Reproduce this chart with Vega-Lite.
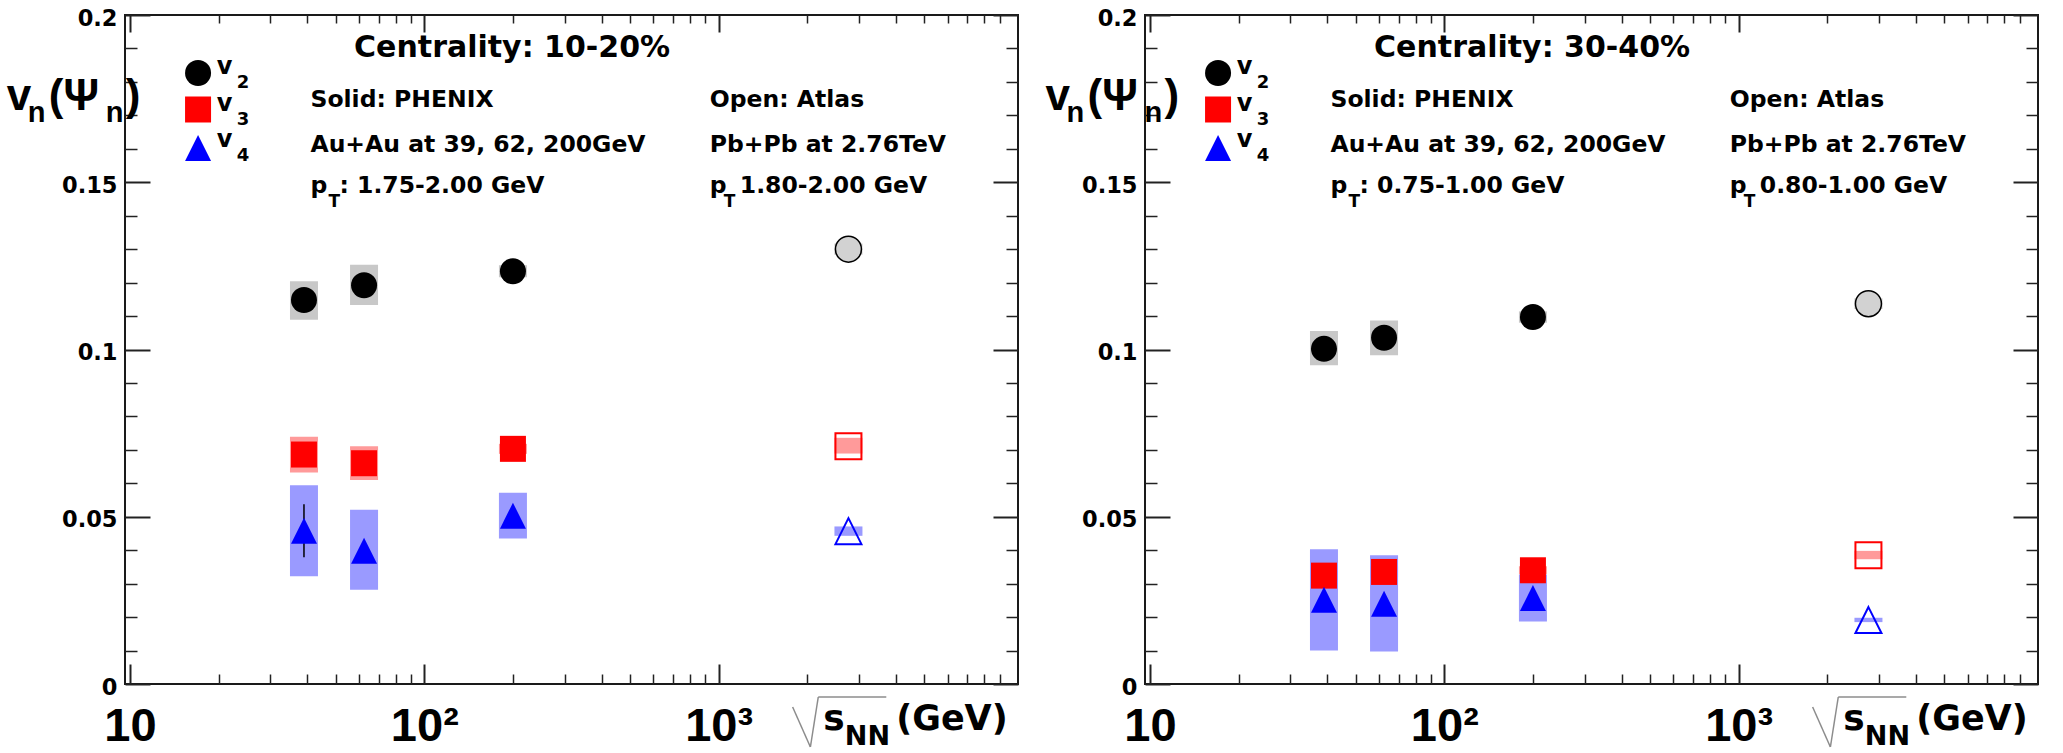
{
"$schema":"https://vega.github.io/schema/vega-lite/v6.json",
"background":"white",
"padding":{"left":5,"top":6,"right":0,"bottom":0},
"spacing":24,
"config":{"view":{"stroke":"#1a1a1a","strokeWidth":2},"axis":{"grid":false,"domain":false,"labelFlush":false,"labelOverlap":false,"labelBound":false,"tickColor":"#222"}},
"datasets":{
"p1":[
{"exp":"PHENIX","n":"v2","sqrts":39,"v":0.1148,"lo":0.1089,"hi":0.1204},
{"exp":"PHENIX","n":"v2","sqrts":62.4,"v":0.1192,"lo":0.1133,"hi":0.1253},
{"exp":"PHENIX","n":"v2","sqrts":200,"v":0.1234,"lo":0.1216,"hi":0.1252},
{"exp":"PHENIX","n":"v3","sqrts":39,"v":0.0686,"lo":0.0632,"hi":0.0739},
{"exp":"PHENIX","n":"v3","sqrts":62.4,"v":0.066,"lo":0.061,"hi":0.0711},
{"exp":"PHENIX","n":"v3","sqrts":200,"v":0.0703,"lo":0.0688,"hi":0.0718},
{"exp":"PHENIX","n":"v4","sqrts":39,"v":0.0458,"lo":0.0322,"hi":0.0594,"slo":0.0379,"shi":0.0537},
{"exp":"PHENIX","n":"v4","sqrts":62.4,"v":0.0398,"lo":0.0282,"hi":0.0521},
{"exp":"PHENIX","n":"v4","sqrts":200,"v":0.0503,"lo":0.0435,"hi":0.0572},
{"exp":"ATLAS","n":"v2","sqrts":2760,"v":0.13,"lo":0.1283,"hi":0.1317},
{"exp":"ATLAS","n":"v3","sqrts":2760,"v":0.0711,"lo":0.0689,"hi":0.0736},
{"exp":"ATLAS","n":"v4","sqrts":2760,"v":0.0457,"lo":0.0443,"hi":0.0471}
],
"p2":[
{"exp":"PHENIX","n":"v2","sqrts":39,"v":0.1002,"lo":0.0953,"hi":0.1055},
{"exp":"PHENIX","n":"v2","sqrts":62.4,"v":0.1035,"lo":0.0983,"hi":0.1087},
{"exp":"PHENIX","n":"v2","sqrts":200,"v":0.1097,"lo":0.108,"hi":0.1114},
{"exp":"PHENIX","n":"v3","sqrts":39,"v":0.0324,"lo":0.031,"hi":0.0338},
{"exp":"PHENIX","n":"v3","sqrts":62.4,"v":0.0335,"lo":0.0318,"hi":0.0352},
{"exp":"PHENIX","n":"v3","sqrts":200,"v":0.034,"lo":0.0328,"hi":0.0352},
{"exp":"PHENIX","n":"v4","sqrts":39,"v":0.0252,"lo":0.01,"hi":0.0403},
{"exp":"PHENIX","n":"v4","sqrts":62.4,"v":0.024,"lo":0.0097,"hi":0.0385},
{"exp":"PHENIX","n":"v4","sqrts":200,"v":0.0257,"lo":0.0187,"hi":0.0327},
{"exp":"ATLAS","n":"v2","sqrts":2760,"v":0.1137,"lo":0.1121,"hi":0.1153},
{"exp":"ATLAS","n":"v3","sqrts":2760,"v":0.0385,"lo":0.0373,"hi":0.0398},
{"exp":"ATLAS","n":"v4","sqrts":2760,"v":0.0191,"lo":0.0185,"hi":0.0198}
]
},
"hconcat":[
{
"width":893,"height":669,
"data":{"name":"p1"},
"resolve":{"axis":{"x":"independent","y":"independent"}},
"layer":[
{"mark":{"type":"bar","size":28},
 "encoding":{
  "x":{"field":"sqrts","type":"quantitative","scale":{"type":"log","domain":[10,10000]},"axis":{"title":null,"orient":"bottom","values":[10,100,1000],"ticks":false,"labelExpr":"datum.value == 10 ? '10' : datum.value == 100 ? '10²' : '10³'","labelFont":"Liberation Sans","labelFontWeight":"bold","labelFontSize":47,"labelColor":"#000","labelPadding":19,"labelBaseline":"top"}},
  "y":{"field":"lo","type":"quantitative","scale":{"domain":[0,0.2],"nice":false,"zero":false},"axis":{"title":null,"orient":"left","values":[0,0.05,0.1,0.15,0.2],"ticks":false,"format":"~g","labelFont":"DejaVu Sans","labelFontWeight":"bold","labelFontSize":22.5,"labelColor":"#000","labelPadding":8,"labelOffset":3}},
  "y2":{"field":"hi"},
  "color":{"field":"n","type":"nominal","scale":{"domain":["v2","v3","v4"],"range":["#c8c8c8","#ff9a9a","#9a9aff"]},"legend":null}}},
{"transform":[{"filter":"isValid(datum.slo)"}],
 "mark":{"type":"rule","color":"#000","strokeWidth":1.5},
 "encoding":{
  "x":{"field":"sqrts","type":"quantitative","scale":{"type":"log","domain":[10,10000]},"axis":{"title":null,"orient":"bottom","values":[10,100,1000],"labels":false,"tickSize":-20,"tickWidth":2}},
  "y":{"field":"slo","type":"quantitative","scale":{"domain":[0,0.2],"nice":false,"zero":false},"axis":{"title":null,"orient":"left","values":[0,0.05,0.1,0.15,0.2],"labels":false,"tickSize":-25,"tickWidth":2}},
  "y2":{"field":"shi"}}},
{"transform":[{"filter":"datum.exp == 'PHENIX'"}],
 "mark":{"type":"point","filled":true,"size":676,"opacity":1},
 "encoding":{
  "x":{"field":"sqrts","type":"quantitative","scale":{"type":"log","domain":[10,10000]},"axis":{"title":null,"orient":"bottom","values":[20,30,40,50,60,70,80,90,200,300,400,500,600,700,800,900,2000,3000,4000,5000,6000,7000,8000,9000],"labels":false,"tickSize":-10,"tickWidth":1.5}},
  "y":{"field":"v","type":"quantitative","scale":{"domain":[0,0.2],"nice":false,"zero":false},"axis":{"title":null,"orient":"left","values":[0.01,0.02,0.03,0.04,0.06,0.07,0.08,0.09,0.11,0.12,0.13,0.14,0.16,0.17,0.18,0.19],"labels":false,"tickSize":-12,"tickWidth":1.5}},
  "shape":{"field":"n","type":"nominal","scale":{"domain":["v2","v3","v4"],"range":["circle","square","M0,-1L1,1L-1,1Z"]},"legend":null},
  "fill":{"field":"n","type":"nominal","scale":{"domain":["v2","v3","v4"],"range":["#000000","#ff0000","#0000ff"]},"legend":null}}},
{"transform":[{"filter":"datum.exp == 'ATLAS' && datum.n == 'v2'"}],
 "mark":{"type":"point","shape":"circle","filled":true,"fill":"#d2d2d2","stroke":"#000","strokeWidth":1.5,"size":676,"opacity":1},
 "encoding":{
  "x":{"field":"sqrts","type":"quantitative","scale":{"type":"log","domain":[10,10000]},"axis":{"title":null,"orient":"top","values":[10,100,1000],"labels":false,"tickSize":-17,"tickWidth":2}},
  "y":{"field":"v","type":"quantitative","scale":{"domain":[0,0.2],"nice":false,"zero":false},"axis":{"title":null,"orient":"right","values":[0,0.05,0.1,0.15,0.2],"labels":false,"tickSize":-25,"tickWidth":2}}}},
{"transform":[{"filter":"datum.exp == 'ATLAS' && datum.n != 'v2'"}],
 "mark":{"type":"point","filled":false,"size":676,"strokeWidth":2,"opacity":1},
 "encoding":{
  "x":{"field":"sqrts","type":"quantitative","scale":{"type":"log","domain":[10,10000]},"axis":{"title":null,"orient":"top","values":[20,30,40,50,60,70,80,90,200,300,400,500,600,700,800,900,2000,3000,4000,5000,6000,7000,8000,9000],"labels":false,"tickSize":-8,"tickWidth":1.5}},
  "y":{"field":"v","type":"quantitative","scale":{"domain":[0,0.2],"nice":false,"zero":false},"axis":{"title":null,"orient":"right","values":[0.01,0.02,0.03,0.04,0.06,0.07,0.08,0.09,0.11,0.12,0.13,0.14,0.16,0.17,0.18,0.19],"labels":false,"tickSize":-12,"tickWidth":1.5}},
  "shape":{"field":"n","type":"nominal","scale":{"domain":["v2","v3","v4"],"range":["circle","square","M0,-1L1,1L-1,1Z"]},"legend":null},
  "stroke":{"field":"n","type":"nominal","scale":{"domain":["v2","v3","v4"],"range":["#000000","#ff0000","#0000ff"]},"legend":null}}},
{"data":{"values":[{}]},"mark":{"type":"point","shape":"circle","filled":true,"fill":"#000","size":676,"opacity":1},"encoding":{"x":{"datum":17.03,"scale":{"type":"log","domain":[10,10000]},"axis":null},"y":{"datum":0.18266,"scale":{"domain":[0,0.2],"nice":false,"zero":false},"axis":null}}},
{"data":{"values":[{}]},"mark":{"type":"point","shape":"square","filled":true,"fill":"#ff0000","size":676,"opacity":1},"encoding":{"x":{"datum":17.03,"scale":{"type":"log","domain":[10,10000]},"axis":null},"y":{"datum":0.17175,"scale":{"domain":[0,0.2],"nice":false,"zero":false},"axis":null}}},
{"data":{"values":[{}]},"mark":{"type":"point","shape":"M0,-1L1,1L-1,1Z","filled":true,"fill":"#0000ff","size":676,"opacity":1},"encoding":{"x":{"datum":17.03,"scale":{"type":"log","domain":[10,10000]},"axis":null},"y":{"datum":0.16024,"scale":{"domain":[0,0.2],"nice":false,"zero":false},"axis":null}}},
{"data":{"values":[{}]},"mark":{"type":"text","text":["v","v","v"],"lineHeight":36.5,"font":"DejaVu Sans","fontWeight":"bold","fontSize":24,"align":"left","baseline":"alphabetic","fill":"#000"},"encoding":{"x":{"datum":19.72,"scale":{"type":"log","domain":[10,10000]},"axis":null},"y":{"datum":0.18236,"scale":{"domain":[0,0.2],"nice":false,"zero":false},"axis":null}}},
{"data":{"values":[{}]},"mark":{"type":"text","text":["2","3","4"],"lineHeight":36.5,"font":"DejaVu Sans","fontWeight":"bold","fontSize":18,"dx":20,"align":"left","baseline":"alphabetic","fill":"#000"},"encoding":{"x":{"datum":19.72,"scale":{"type":"log","domain":[10,10000]},"axis":null},"y":{"datum":0.17817,"scale":{"domain":[0,0.2],"nice":false,"zero":false},"axis":null}}},
{"data":{"values":[{}]},"mark":{"type":"text","text":"Centrality: 10-20%","font":"DejaVu Sans","fontWeight":"bold","fontSize":30,"align":"center","baseline":"alphabetic","fill":"#000"},"encoding":{"x":{"datum":198.7,"scale":{"type":"log","domain":[10,10000]},"axis":null},"y":{"datum":0.18744,"scale":{"domain":[0,0.2],"nice":false,"zero":false},"axis":null}}},
{"data":{"values":[{}]},"mark":{"type":"text","text":["Solid: PHENIX","Au+Au at 39, 62, 200GeV"],"lineHeight":45,"font":"DejaVu Sans","fontWeight":"bold","fontSize":23.5,"align":"left","baseline":"alphabetic","fill":"#000"},"encoding":{"x":{"datum":41.03,"scale":{"type":"log","domain":[10,10000]},"axis":null},"y":{"datum":0.17249,"scale":{"domain":[0,0.2],"nice":false,"zero":false},"axis":null}}},
{"data":{"values":[{}]},"mark":{"type":"text","text":"p","font":"DejaVu Sans","fontWeight":"bold","fontSize":23.5,"align":"left","baseline":"alphabetic","fill":"#000"},"encoding":{"x":{"datum":41.03,"scale":{"type":"log","domain":[10,10000]},"axis":null},"y":{"datum":0.14678,"scale":{"domain":[0,0.2],"nice":false,"zero":false},"axis":null}}},
{"data":{"values":[{}]},"mark":{"type":"text","text":"T","font":"DejaVu Sans","fontWeight":"bold","fontSize":17,"dx":18,"dy":14,"align":"left","baseline":"alphabetic","fill":"#000"},"encoding":{"x":{"datum":41.03,"scale":{"type":"log","domain":[10,10000]},"axis":null},"y":{"datum":0.14678,"scale":{"domain":[0,0.2],"nice":false,"zero":false},"axis":null}}},
{"data":{"values":[{}]},"mark":{"type":"text","text":": 1.75-2.00 GeV","font":"DejaVu Sans","fontWeight":"bold","fontSize":23.5,"dx":29,"align":"left","baseline":"alphabetic","fill":"#000"},"encoding":{"x":{"datum":41.03,"scale":{"type":"log","domain":[10,10000]},"axis":null},"y":{"datum":0.14678,"scale":{"domain":[0,0.2],"nice":false,"zero":false},"axis":null}}},
{"data":{"values":[{}]},"mark":{"type":"text","text":["Open: Atlas","Pb+Pb at 2.76TeV"],"lineHeight":45,"font":"DejaVu Sans","fontWeight":"bold","fontSize":23.5,"align":"left","baseline":"alphabetic","fill":"#000"},"encoding":{"x":{"datum":932.9,"scale":{"type":"log","domain":[10,10000]},"axis":null},"y":{"datum":0.17249,"scale":{"domain":[0,0.2],"nice":false,"zero":false},"axis":null}}},
{"data":{"values":[{}]},"mark":{"type":"text","text":"p","font":"DejaVu Sans","fontWeight":"bold","fontSize":23.5,"align":"left","baseline":"alphabetic","fill":"#000"},"encoding":{"x":{"datum":932.9,"scale":{"type":"log","domain":[10,10000]},"axis":null},"y":{"datum":0.14678,"scale":{"domain":[0,0.2],"nice":false,"zero":false},"axis":null}}},
{"data":{"values":[{}]},"mark":{"type":"text","text":"T","font":"DejaVu Sans","fontWeight":"bold","fontSize":17,"dx":14,"dy":14,"align":"left","baseline":"alphabetic","fill":"#000"},"encoding":{"x":{"datum":932.9,"scale":{"type":"log","domain":[10,10000]},"axis":null},"y":{"datum":0.14678,"scale":{"domain":[0,0.2],"nice":false,"zero":false},"axis":null}}},
{"data":{"values":[{}]},"mark":{"type":"text","text":"1.80-2.00 GeV","font":"DejaVu Sans","fontWeight":"bold","fontSize":23.5,"dx":30,"align":"left","baseline":"alphabetic","fill":"#000"},"encoding":{"x":{"datum":932.9,"scale":{"type":"log","domain":[10,10000]},"axis":null},"y":{"datum":0.14678,"scale":{"domain":[0,0.2],"nice":false,"zero":false},"axis":null}}},
{"data":{"values":[{}]},"mark":{"type":"text","text":"v","font":"Liberation Sans","fontWeight":"bold","fontSize":44,"align":"left","baseline":"alphabetic","fill":"#000"},"encoding":{"x":{"datum":3.813,"scale":{"type":"log","domain":[10,10000]},"axis":null},"y":{"datum":0.1716,"scale":{"domain":[0,0.2],"nice":false,"zero":false},"axis":null}}},
{"data":{"values":[{}]},"mark":{"type":"text","text":"n","font":"Liberation Sans","fontWeight":"bold","fontSize":29,"dx":21,"dy":12,"align":"left","baseline":"alphabetic","fill":"#000"},"encoding":{"x":{"datum":3.813,"scale":{"type":"log","domain":[10,10000]},"axis":null},"y":{"datum":0.1716,"scale":{"domain":[0,0.2],"nice":false,"zero":false},"axis":null}}},
{"data":{"values":[{}]},"mark":{"type":"text","text":"(Ψ","font":"Liberation Sans","fontWeight":"bold","fontSize":44,"dx":42,"align":"left","baseline":"alphabetic","fill":"#000"},"encoding":{"x":{"datum":3.813,"scale":{"type":"log","domain":[10,10000]},"axis":null},"y":{"datum":0.1716,"scale":{"domain":[0,0.2],"nice":false,"zero":false},"axis":null}}},
{"data":{"values":[{}]},"mark":{"type":"text","text":"n","font":"Liberation Sans","fontWeight":"bold","fontSize":29,"dx":99,"dy":12,"align":"left","baseline":"alphabetic","fill":"#000"},"encoding":{"x":{"datum":3.813,"scale":{"type":"log","domain":[10,10000]},"axis":null},"y":{"datum":0.1716,"scale":{"domain":[0,0.2],"nice":false,"zero":false},"axis":null}}},
{"data":{"values":[{}]},"mark":{"type":"text","text":")","font":"Liberation Sans","fontWeight":"bold","fontSize":44,"dx":119,"align":"left","baseline":"alphabetic","fill":"#000"},"encoding":{"x":{"datum":3.813,"scale":{"type":"log","domain":[10,10000]},"axis":null},"y":{"datum":0.1716,"scale":{"domain":[0,0.2],"nice":false,"zero":false},"axis":null}}},
{"data":{"values":[{}]},"mark":{"type":"rule","color":"#8c8c8c","strokeWidth":1.5},"encoding":{"x":{"datum":1783.6,"scale":{"type":"log","domain":[10,10000]},"axis":null},"x2":{"datum":2049.5},"y":{"datum":-0.006876,"scale":{"domain":[0,0.2],"nice":false,"zero":false},"axis":null},"y2":{"datum":-0.018834}}},
{"data":{"values":[{}]},"mark":{"type":"rule","color":"#8c8c8c","strokeWidth":1.5},"encoding":{"x":{"datum":2049.5,"scale":{"type":"log","domain":[10,10000]},"axis":null},"x2":{"datum":2179.7},"y":{"datum":-0.018834,"scale":{"domain":[0,0.2],"nice":false,"zero":false},"axis":null},"y2":{"datum":-0.003886}}},
{"data":{"values":[{}]},"mark":{"type":"rule","color":"#8c8c8c","strokeWidth":1.5},"encoding":{"x":{"datum":2179.7,"scale":{"type":"log","domain":[10,10000]},"axis":null},"x2":{"datum":3711},"y":{"datum":-0.003886,"scale":{"domain":[0,0.2],"nice":false,"zero":false},"axis":null},"y2":{"datum":-0.003886}}},
{"data":{"values":[{}]},"mark":{"type":"text","text":"s","font":"DejaVu Sans","fontWeight":"bold","fontSize":36,"align":"left","baseline":"alphabetic","fill":"#000"},"encoding":{"x":{"datum":2265,"scale":{"type":"log","domain":[10,10000]},"axis":null},"y":{"datum":-0.013752,"scale":{"domain":[0,0.2],"nice":false,"zero":false},"axis":null}}},
{"data":{"values":[{}]},"mark":{"type":"text","text":"NN","font":"DejaVu Sans","fontWeight":"bold","fontSize":27,"align":"left","baseline":"alphabetic","fill":"#000"},"encoding":{"x":{"datum":2684,"scale":{"type":"log","domain":[10,10000]},"axis":null},"y":{"datum":-0.018236,"scale":{"domain":[0,0.2],"nice":false,"zero":false},"axis":null}}},
{"data":{"values":[{}]},"mark":{"type":"text","text":"(GeV)","font":"DejaVu Sans","fontWeight":"bold","fontSize":35,"align":"left","baseline":"alphabetic","fill":"#000"},"encoding":{"x":{"datum":4009,"scale":{"type":"log","domain":[10,10000]},"axis":null},"y":{"datum":-0.013752,"scale":{"domain":[0,0.2],"nice":false,"zero":false},"axis":null}}}
]
},
{
"width":893,"height":669,
"data":{"name":"p2"},
"resolve":{"axis":{"x":"independent","y":"independent"}},
"layer":[
{"mark":{"type":"bar","size":28},
 "encoding":{
  "x":{"field":"sqrts","type":"quantitative","scale":{"type":"log","domain":[10,10000]},"axis":{"title":null,"orient":"bottom","values":[10,100,1000],"ticks":false,"labelExpr":"datum.value == 10 ? '10' : datum.value == 100 ? '10²' : '10³'","labelFont":"Liberation Sans","labelFontWeight":"bold","labelFontSize":47,"labelColor":"#000","labelPadding":19,"labelBaseline":"top"}},
  "y":{"field":"lo","type":"quantitative","scale":{"domain":[0,0.2],"nice":false,"zero":false},"axis":{"title":null,"orient":"left","values":[0,0.05,0.1,0.15,0.2],"ticks":false,"format":"~g","labelFont":"DejaVu Sans","labelFontWeight":"bold","labelFontSize":22.5,"labelColor":"#000","labelPadding":8,"labelOffset":3}},
  "y2":{"field":"hi"},
  "color":{"field":"n","type":"nominal","scale":{"domain":["v2","v3","v4"],"range":["#c8c8c8","#ff9a9a","#9a9aff"]},"legend":null}}},
{"transform":[{"filter":"isValid(datum.slo)"}],
 "mark":{"type":"rule","color":"#000","strokeWidth":1.5},
 "encoding":{
  "x":{"field":"sqrts","type":"quantitative","scale":{"type":"log","domain":[10,10000]},"axis":{"title":null,"orient":"bottom","values":[10,100,1000],"labels":false,"tickSize":-20,"tickWidth":2}},
  "y":{"field":"slo","type":"quantitative","scale":{"domain":[0,0.2],"nice":false,"zero":false},"axis":{"title":null,"orient":"left","values":[0,0.05,0.1,0.15,0.2],"labels":false,"tickSize":-25,"tickWidth":2}},
  "y2":{"field":"shi"}}},
{"transform":[{"filter":"datum.exp == 'PHENIX'"}],
 "mark":{"type":"point","filled":true,"size":676,"opacity":1},
 "encoding":{
  "x":{"field":"sqrts","type":"quantitative","scale":{"type":"log","domain":[10,10000]},"axis":{"title":null,"orient":"bottom","values":[20,30,40,50,60,70,80,90,200,300,400,500,600,700,800,900,2000,3000,4000,5000,6000,7000,8000,9000],"labels":false,"tickSize":-10,"tickWidth":1.5}},
  "y":{"field":"v","type":"quantitative","scale":{"domain":[0,0.2],"nice":false,"zero":false},"axis":{"title":null,"orient":"left","values":[0.01,0.02,0.03,0.04,0.06,0.07,0.08,0.09,0.11,0.12,0.13,0.14,0.16,0.17,0.18,0.19],"labels":false,"tickSize":-12,"tickWidth":1.5}},
  "shape":{"field":"n","type":"nominal","scale":{"domain":["v2","v3","v4"],"range":["circle","square","M0,-1L1,1L-1,1Z"]},"legend":null},
  "fill":{"field":"n","type":"nominal","scale":{"domain":["v2","v3","v4"],"range":["#000000","#ff0000","#0000ff"]},"legend":null}}},
{"transform":[{"filter":"datum.exp == 'ATLAS' && datum.n == 'v2'"}],
 "mark":{"type":"point","shape":"circle","filled":true,"fill":"#d2d2d2","stroke":"#000","strokeWidth":1.5,"size":676,"opacity":1},
 "encoding":{
  "x":{"field":"sqrts","type":"quantitative","scale":{"type":"log","domain":[10,10000]},"axis":{"title":null,"orient":"top","values":[10,100,1000],"labels":false,"tickSize":-17,"tickWidth":2}},
  "y":{"field":"v","type":"quantitative","scale":{"domain":[0,0.2],"nice":false,"zero":false},"axis":{"title":null,"orient":"right","values":[0,0.05,0.1,0.15,0.2],"labels":false,"tickSize":-25,"tickWidth":2}}}},
{"transform":[{"filter":"datum.exp == 'ATLAS' && datum.n != 'v2'"}],
 "mark":{"type":"point","filled":false,"size":676,"strokeWidth":2,"opacity":1},
 "encoding":{
  "x":{"field":"sqrts","type":"quantitative","scale":{"type":"log","domain":[10,10000]},"axis":{"title":null,"orient":"top","values":[20,30,40,50,60,70,80,90,200,300,400,500,600,700,800,900,2000,3000,4000,5000,6000,7000,8000,9000],"labels":false,"tickSize":-8,"tickWidth":1.5}},
  "y":{"field":"v","type":"quantitative","scale":{"domain":[0,0.2],"nice":false,"zero":false},"axis":{"title":null,"orient":"right","values":[0.01,0.02,0.03,0.04,0.06,0.07,0.08,0.09,0.11,0.12,0.13,0.14,0.16,0.17,0.18,0.19],"labels":false,"tickSize":-12,"tickWidth":1.5}},
  "shape":{"field":"n","type":"nominal","scale":{"domain":["v2","v3","v4"],"range":["circle","square","M0,-1L1,1L-1,1Z"]},"legend":null},
  "stroke":{"field":"n","type":"nominal","scale":{"domain":["v2","v3","v4"],"range":["#000000","#ff0000","#0000ff"]},"legend":null}}},
{"data":{"values":[{}]},"mark":{"type":"point","shape":"circle","filled":true,"fill":"#000","size":676,"opacity":1},"encoding":{"x":{"datum":17.03,"scale":{"type":"log","domain":[10,10000]},"axis":null},"y":{"datum":0.18266,"scale":{"domain":[0,0.2],"nice":false,"zero":false},"axis":null}}},
{"data":{"values":[{}]},"mark":{"type":"point","shape":"square","filled":true,"fill":"#ff0000","size":676,"opacity":1},"encoding":{"x":{"datum":17.03,"scale":{"type":"log","domain":[10,10000]},"axis":null},"y":{"datum":0.17175,"scale":{"domain":[0,0.2],"nice":false,"zero":false},"axis":null}}},
{"data":{"values":[{}]},"mark":{"type":"point","shape":"M0,-1L1,1L-1,1Z","filled":true,"fill":"#0000ff","size":676,"opacity":1},"encoding":{"x":{"datum":17.03,"scale":{"type":"log","domain":[10,10000]},"axis":null},"y":{"datum":0.16024,"scale":{"domain":[0,0.2],"nice":false,"zero":false},"axis":null}}},
{"data":{"values":[{}]},"mark":{"type":"text","text":["v","v","v"],"lineHeight":36.5,"font":"DejaVu Sans","fontWeight":"bold","fontSize":24,"align":"left","baseline":"alphabetic","fill":"#000"},"encoding":{"x":{"datum":19.72,"scale":{"type":"log","domain":[10,10000]},"axis":null},"y":{"datum":0.18236,"scale":{"domain":[0,0.2],"nice":false,"zero":false},"axis":null}}},
{"data":{"values":[{}]},"mark":{"type":"text","text":["2","3","4"],"lineHeight":36.5,"font":"DejaVu Sans","fontWeight":"bold","fontSize":18,"dx":20,"align":"left","baseline":"alphabetic","fill":"#000"},"encoding":{"x":{"datum":19.72,"scale":{"type":"log","domain":[10,10000]},"axis":null},"y":{"datum":0.17817,"scale":{"domain":[0,0.2],"nice":false,"zero":false},"axis":null}}},
{"data":{"values":[{}]},"mark":{"type":"text","text":"Centrality: 30-40%","font":"DejaVu Sans","fontWeight":"bold","fontSize":30,"align":"center","baseline":"alphabetic","fill":"#000"},"encoding":{"x":{"datum":198.7,"scale":{"type":"log","domain":[10,10000]},"axis":null},"y":{"datum":0.18744,"scale":{"domain":[0,0.2],"nice":false,"zero":false},"axis":null}}},
{"data":{"values":[{}]},"mark":{"type":"text","text":["Solid: PHENIX","Au+Au at 39, 62, 200GeV"],"lineHeight":45,"font":"DejaVu Sans","fontWeight":"bold","fontSize":23.5,"align":"left","baseline":"alphabetic","fill":"#000"},"encoding":{"x":{"datum":41.03,"scale":{"type":"log","domain":[10,10000]},"axis":null},"y":{"datum":0.17249,"scale":{"domain":[0,0.2],"nice":false,"zero":false},"axis":null}}},
{"data":{"values":[{}]},"mark":{"type":"text","text":"p","font":"DejaVu Sans","fontWeight":"bold","fontSize":23.5,"align":"left","baseline":"alphabetic","fill":"#000"},"encoding":{"x":{"datum":41.03,"scale":{"type":"log","domain":[10,10000]},"axis":null},"y":{"datum":0.14678,"scale":{"domain":[0,0.2],"nice":false,"zero":false},"axis":null}}},
{"data":{"values":[{}]},"mark":{"type":"text","text":"T","font":"DejaVu Sans","fontWeight":"bold","fontSize":17,"dx":18,"dy":14,"align":"left","baseline":"alphabetic","fill":"#000"},"encoding":{"x":{"datum":41.03,"scale":{"type":"log","domain":[10,10000]},"axis":null},"y":{"datum":0.14678,"scale":{"domain":[0,0.2],"nice":false,"zero":false},"axis":null}}},
{"data":{"values":[{}]},"mark":{"type":"text","text":": 0.75-1.00 GeV","font":"DejaVu Sans","fontWeight":"bold","fontSize":23.5,"dx":29,"align":"left","baseline":"alphabetic","fill":"#000"},"encoding":{"x":{"datum":41.03,"scale":{"type":"log","domain":[10,10000]},"axis":null},"y":{"datum":0.14678,"scale":{"domain":[0,0.2],"nice":false,"zero":false},"axis":null}}},
{"data":{"values":[{}]},"mark":{"type":"text","text":["Open: Atlas","Pb+Pb at 2.76TeV"],"lineHeight":45,"font":"DejaVu Sans","fontWeight":"bold","fontSize":23.5,"align":"left","baseline":"alphabetic","fill":"#000"},"encoding":{"x":{"datum":932.9,"scale":{"type":"log","domain":[10,10000]},"axis":null},"y":{"datum":0.17249,"scale":{"domain":[0,0.2],"nice":false,"zero":false},"axis":null}}},
{"data":{"values":[{}]},"mark":{"type":"text","text":"p","font":"DejaVu Sans","fontWeight":"bold","fontSize":23.5,"align":"left","baseline":"alphabetic","fill":"#000"},"encoding":{"x":{"datum":932.9,"scale":{"type":"log","domain":[10,10000]},"axis":null},"y":{"datum":0.14678,"scale":{"domain":[0,0.2],"nice":false,"zero":false},"axis":null}}},
{"data":{"values":[{}]},"mark":{"type":"text","text":"T","font":"DejaVu Sans","fontWeight":"bold","fontSize":17,"dx":14,"dy":14,"align":"left","baseline":"alphabetic","fill":"#000"},"encoding":{"x":{"datum":932.9,"scale":{"type":"log","domain":[10,10000]},"axis":null},"y":{"datum":0.14678,"scale":{"domain":[0,0.2],"nice":false,"zero":false},"axis":null}}},
{"data":{"values":[{}]},"mark":{"type":"text","text":"0.80-1.00 GeV","font":"DejaVu Sans","fontWeight":"bold","fontSize":23.5,"dx":30,"align":"left","baseline":"alphabetic","fill":"#000"},"encoding":{"x":{"datum":932.9,"scale":{"type":"log","domain":[10,10000]},"axis":null},"y":{"datum":0.14678,"scale":{"domain":[0,0.2],"nice":false,"zero":false},"axis":null}}},
{"data":{"values":[{}]},"mark":{"type":"text","text":"v","font":"Liberation Sans","fontWeight":"bold","fontSize":44,"align":"left","baseline":"alphabetic","fill":"#000"},"encoding":{"x":{"datum":4.415,"scale":{"type":"log","domain":[10,10000]},"axis":null},"y":{"datum":0.1716,"scale":{"domain":[0,0.2],"nice":false,"zero":false},"axis":null}}},
{"data":{"values":[{}]},"mark":{"type":"text","text":"n","font":"Liberation Sans","fontWeight":"bold","fontSize":29,"dx":21,"dy":12,"align":"left","baseline":"alphabetic","fill":"#000"},"encoding":{"x":{"datum":4.415,"scale":{"type":"log","domain":[10,10000]},"axis":null},"y":{"datum":0.1716,"scale":{"domain":[0,0.2],"nice":false,"zero":false},"axis":null}}},
{"data":{"values":[{}]},"mark":{"type":"text","text":"(Ψ","font":"Liberation Sans","fontWeight":"bold","fontSize":44,"dx":42,"align":"left","baseline":"alphabetic","fill":"#000"},"encoding":{"x":{"datum":4.415,"scale":{"type":"log","domain":[10,10000]},"axis":null},"y":{"datum":0.1716,"scale":{"domain":[0,0.2],"nice":false,"zero":false},"axis":null}}},
{"data":{"values":[{}]},"mark":{"type":"text","text":"n","font":"Liberation Sans","fontWeight":"bold","fontSize":29,"dx":99,"dy":12,"align":"left","baseline":"alphabetic","fill":"#000"},"encoding":{"x":{"datum":4.415,"scale":{"type":"log","domain":[10,10000]},"axis":null},"y":{"datum":0.1716,"scale":{"domain":[0,0.2],"nice":false,"zero":false},"axis":null}}},
{"data":{"values":[{}]},"mark":{"type":"text","text":")","font":"Liberation Sans","fontWeight":"bold","fontSize":44,"dx":119,"align":"left","baseline":"alphabetic","fill":"#000"},"encoding":{"x":{"datum":4.415,"scale":{"type":"log","domain":[10,10000]},"axis":null},"y":{"datum":0.1716,"scale":{"domain":[0,0.2],"nice":false,"zero":false},"axis":null}}},
{"data":{"values":[{}]},"mark":{"type":"rule","color":"#8c8c8c","strokeWidth":1.5},"encoding":{"x":{"datum":1783.6,"scale":{"type":"log","domain":[10,10000]},"axis":null},"x2":{"datum":2049.5},"y":{"datum":-0.006876,"scale":{"domain":[0,0.2],"nice":false,"zero":false},"axis":null},"y2":{"datum":-0.018834}}},
{"data":{"values":[{}]},"mark":{"type":"rule","color":"#8c8c8c","strokeWidth":1.5},"encoding":{"x":{"datum":2049.5,"scale":{"type":"log","domain":[10,10000]},"axis":null},"x2":{"datum":2179.7},"y":{"datum":-0.018834,"scale":{"domain":[0,0.2],"nice":false,"zero":false},"axis":null},"y2":{"datum":-0.003886}}},
{"data":{"values":[{}]},"mark":{"type":"rule","color":"#8c8c8c","strokeWidth":1.5},"encoding":{"x":{"datum":2179.7,"scale":{"type":"log","domain":[10,10000]},"axis":null},"x2":{"datum":3711},"y":{"datum":-0.003886,"scale":{"domain":[0,0.2],"nice":false,"zero":false},"axis":null},"y2":{"datum":-0.003886}}},
{"data":{"values":[{}]},"mark":{"type":"text","text":"s","font":"DejaVu Sans","fontWeight":"bold","fontSize":36,"align":"left","baseline":"alphabetic","fill":"#000"},"encoding":{"x":{"datum":2265,"scale":{"type":"log","domain":[10,10000]},"axis":null},"y":{"datum":-0.013752,"scale":{"domain":[0,0.2],"nice":false,"zero":false},"axis":null}}},
{"data":{"values":[{}]},"mark":{"type":"text","text":"NN","font":"DejaVu Sans","fontWeight":"bold","fontSize":27,"align":"left","baseline":"alphabetic","fill":"#000"},"encoding":{"x":{"datum":2684,"scale":{"type":"log","domain":[10,10000]},"axis":null},"y":{"datum":-0.018236,"scale":{"domain":[0,0.2],"nice":false,"zero":false},"axis":null}}},
{"data":{"values":[{}]},"mark":{"type":"text","text":"(GeV)","font":"DejaVu Sans","fontWeight":"bold","fontSize":35,"align":"left","baseline":"alphabetic","fill":"#000"},"encoding":{"x":{"datum":4009,"scale":{"type":"log","domain":[10,10000]},"axis":null},"y":{"datum":-0.013752,"scale":{"domain":[0,0.2],"nice":false,"zero":false},"axis":null}}}
]
}
]
}
